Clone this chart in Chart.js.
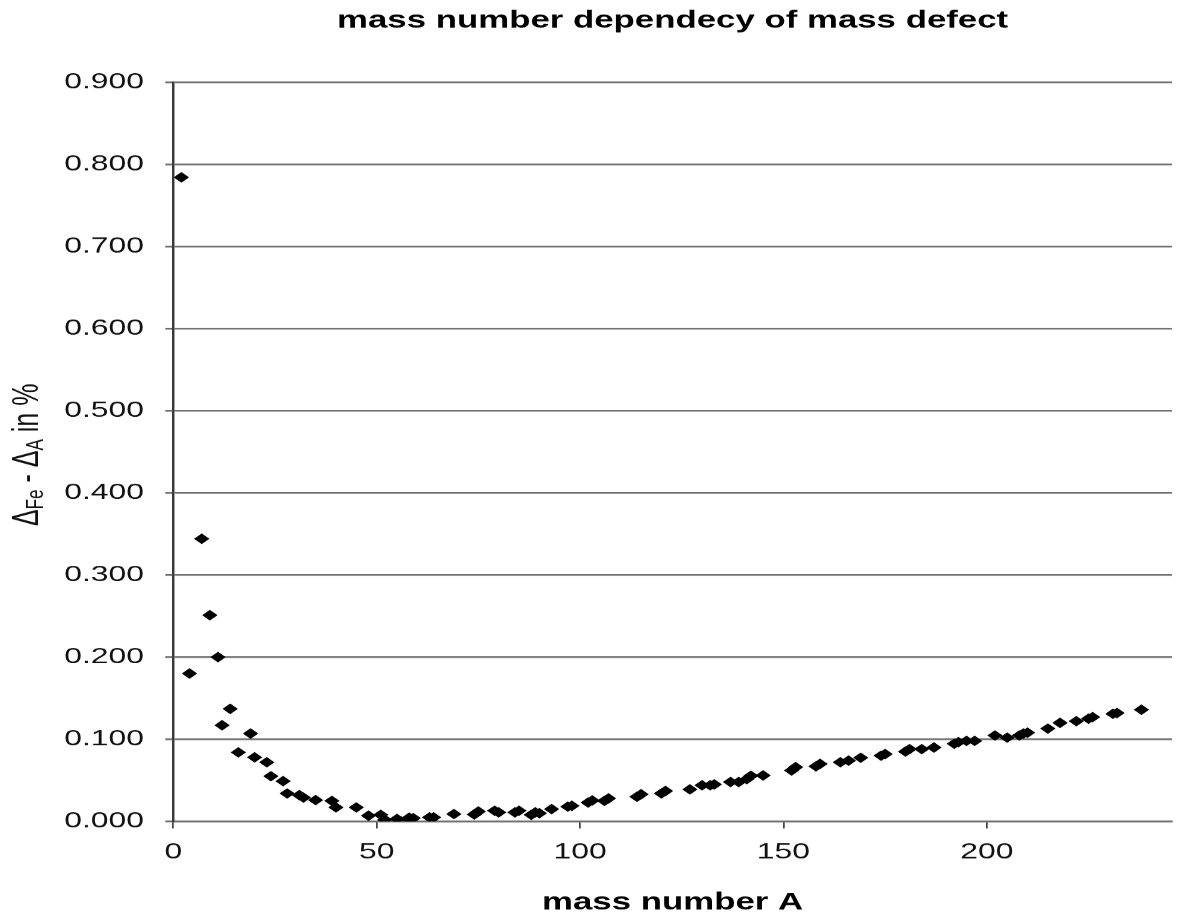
<!DOCTYPE html>
<html>
<head>
<meta charset="utf-8">
<title>mass number dependecy of mass defect</title>
<script src="https://cdn.jsdelivr.net/npm/chart.js@4/dist/chart.umd.min.js"></script>
<style>
  body { margin: 0; background: #fff; }
  #massChart { display: block; }
</style>
</head>
<body>
<canvas id="massChart" width="818" height="915" style="width:1186px;height:915px"></canvas>
<script>
// mass number A of each nuclide
const massNumbers = [
    2, 4, 7, 9, 11, 12, 14, 16, 19, 20,
    23, 24, 27, 28, 31, 32, 35, 39, 40, 45,
    48, 51, 52, 55, 56, 58, 59, 63, 64, 69,
    74, 75, 79, 80, 84, 85, 88, 89, 90, 93,
    97, 98, 102, 103, 106, 107, 114, 115, 120, 121,
    127, 130, 132, 133, 137, 139, 141, 142, 145, 152,
    153, 158, 159, 164, 166, 169, 174, 175, 180, 181,
    184, 187, 192, 193, 195, 197, 202, 205, 208, 209,
    210, 215, 218, 222, 225, 226, 231, 232, 238
];
// delta_Fe - delta_A in %
const defectPercent = [
    0.784, 0.180, 0.344, 0.251, 0.200, 0.117, 0.137, 0.084, 0.107, 0.078,
    0.072, 0.055, 0.049, 0.034, 0.032, 0.029, 0.026, 0.025, 0.017, 0.017,
    0.007, 0.008, 0.002, 0.003, 0.000, 0.0045, 0.004, 0.005, 0.005, 0.009,
    0.0085, 0.012, 0.013, 0.011, 0.011, 0.013, 0.008, 0.011, 0.010, 0.015,
    0.018, 0.019, 0.023, 0.0255, 0.025, 0.028, 0.030, 0.033, 0.034, 0.037,
    0.039, 0.044, 0.044, 0.045, 0.048, 0.048, 0.0515, 0.0556, 0.056, 0.062,
    0.066, 0.067, 0.070, 0.072, 0.074, 0.0775, 0.080, 0.082, 0.085, 0.088,
    0.088, 0.090, 0.0945, 0.0965, 0.098, 0.098, 0.1046, 0.102, 0.1046, 0.107,
    0.108, 0.113, 0.120, 0.122, 0.125, 0.127, 0.131, 0.132, 0.136
];
const xTickValues = [0, 50, 100, 150, 200];

const FONT = "'Liberation Sans', Arial, sans-serif";
// the original picture is stretched sideways, so the chart is drawn narrow and widened
const STRETCH = 1186 / 818;

// y axis title with subscripts
const yTitlePlugin = {
    id: 'yTitle',
    afterDraw(chart) {
        const ctx = chart.ctx;
        const parts = [
            ['\u0394', false], ['Fe', true], [' - \u0394', false], ['A', true], [' in %', false]
        ];
        const big = '25px ' + FONT;
        const small = '17px ' + FONT;
        let total = 0;
        parts.forEach(p => {
            ctx.font = p[1] ? small : big;
            total += ctx.measureText(p[0]).width;
        });
        const cy = (chart.chartArea.top + chart.chartArea.bottom) / 2 + 3;
        ctx.save();
        ctx.translate(26, cy);
        ctx.rotate(-Math.PI / 2);
        ctx.fillStyle = '#111';
        ctx.textBaseline = 'alphabetic';
        ctx.textAlign = 'left';
        let x = -total / 2;
        parts.forEach(p => {
            ctx.font = p[1] ? small : big;
            ctx.fillText(p[0], x, p[1] ? 4 : 0);
            x += ctx.measureText(p[0]).width;
        });
        ctx.restore();
    }
};

document.addEventListener('DOMContentLoaded', function() {
    const ctx = document.getElementById('massChart').getContext('2d');

    const points = massNumbers.map((a, i) => ({ x: a, y: defectPercent[i] }));

    new Chart(ctx, {
        type: 'scatter',
        data: {
            datasets: [{
                label: 'mass defect',
                data: points,
                pointStyle: 'rectRot',
                pointRadius: 4.6,
                borderWidth: 1,
                backgroundColor: '#000',
                borderColor: '#000'
            }]
        },
        options: {
            responsive: false,
            animation: false,
            devicePixelRatio: STRETCH,
            layout: { padding: { right: 9.7 } },
            plugins: {
                legend: { display: false },
                tooltip: { enabled: false },
                title: {
                    display: true,
                    text: 'mass number dependecy of mass defect',
                    fullSize: false,
                    color: '#000',
                    font: { family: FONT, size: 24, weight: 'bold' },
                    padding: { top: 6.6, bottom: 46.6 }
                }
            },
            scales: {
                x: {
                    type: 'linear',
                    min: 0,
                    max: 245.5,
                    afterBuildTicks: (axis) => {
                        axis.ticks = xTickValues.map(v => ({ value: v }));
                    },
                    afterFit: (scale) => { scale.height = 94; },
                    ticks: {
                        stepSize: 50,
                        padding: 11,
                        color: '#111',
                        font: { family: FONT, size: 22 }
                    },
                    grid: {
                        drawOnChartArea: false,
                        drawTicks: true,
                        tickLength: 7,
                        color: '#444',
                        lineWidth: 1.2
                    },
                    border: { color: '#707070', width: 1.8 },
                    title: {
                        display: true,
                        text: 'mass number A',
                        color: '#000',
                        font: { family: FONT, size: 24, weight: 'bold' },
                        padding: { top: 0, bottom: -1.5 }
                    }
                },
                y: {
                    min: 0,
                    max: 0.9,
                    afterFit: (scale) => { scale.width = 119.5; },
                    ticks: {
                        stepSize: 0.1,
                        padding: 14.7,
                        color: '#111',
                        font: { family: FONT, size: 22 },
                        callback: (value) => value.toFixed(3)
                    },
                    grid: {
                        color: '#707070',
                        lineWidth: 1.8,
                        tickLength: 5.5
                    },
                    border: { color: '#3a3a3a', width: 1.7 }
                }
            }
        },
        plugins: [yTitlePlugin]
    });
});
</script>
</body>
</html>
